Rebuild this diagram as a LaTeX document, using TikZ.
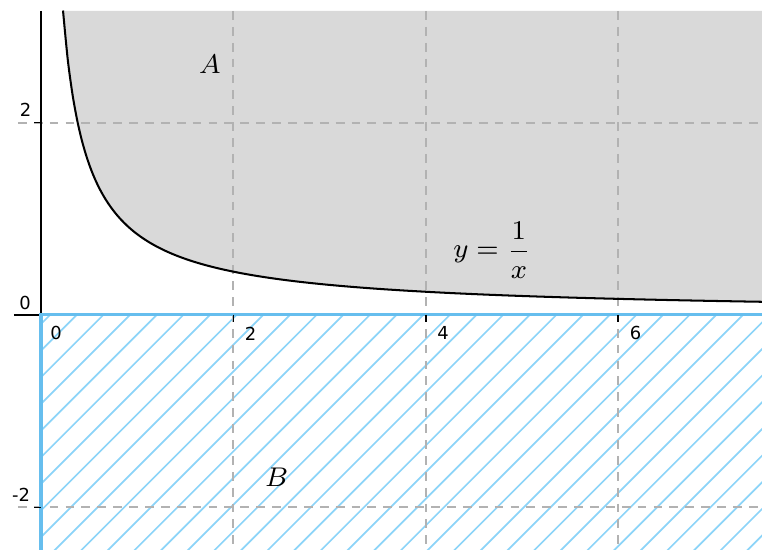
\documentclass[tikz,border=0pt]{standalone}
\usepackage{amsmath}
\usepackage{fontspec}
\usepackage{tikz}
\newfontfamily\tickfont{DejaVu Sans}
\definecolor{areagray}{RGB}{217,217,217}
\definecolor{bdblue}{RGB}{102,190,238}
\definecolor{hatchblue}{RGB}{140,212,248}
\definecolor{gridgray}{RGB}{178,178,178}

\begin{document}
\begin{tikzpicture}[
  gridline/.style={gridgray,line width=0.6pt,dash pattern=on 2.6pt off 2.1pt},
  axisline/.style={black,line width=0.45pt},
  ticklbl/.style={font=\fontsize{5.3}{6}\selectfont\tickfont,inner sep=0pt},
  lbl/.style={font=\fontsize{8.5}{10}\selectfont,inner sep=0pt},
  bound/.style={bdblue,line width=0.9pt},
  hatch/.style={hatchblue,line width=0.5pt}]
\useasboundingbox (-0.426,-2.443) rectangle (7.495,3.274);
% region A above the curve
\fill[areagray] plot[domain=0.229:7.495,samples=120,smooth] (\x,{0.84*pow(\x,-0.9)})
  -- (7.495,3.16) -- (0.229,3.16) -- cycle;
% region B, hatched
\begin{scope}
\clip (0,-2.443) rectangle (7.495,0);
\foreach \k in {0,...,36}
  \draw[hatch] ({0.094+0.277*\k},0) -- ++(-2.6,-2.6);
\end{scope}
% grid
\foreach \gx in {2,4,6} \draw[gridline] (\gx,3.16) -- (\gx,-2.443);
\foreach \gy in {2,-2} \draw[gridline] (-0.24,\gy) -- (7.495,\gy);
% axes
\draw[axisline] (-0.281,0) -- (7.495,0);
\draw[axisline] (0,3.16) -- (0,0);
\draw[bound] (0,-2.443) -- (0,0) -- (7.495,0);
\foreach \gy in {2,-2} \draw[axisline] (-0.07,\gy) -- (0,\gy);
\foreach \gx in {2,4,6} \draw[axisline] (\gx,0) -- (\gx,-0.07);
% curve
\draw[line width=0.6pt] plot[domain=0.229:7.495,samples=150,smooth] (\x,{0.84*pow(\x,-0.9)});
% tick labels
\node[ticklbl] (ylab2) at (-0.161,2.13) {2};
\node[ticklbl] (ylab0) at (-0.166,0.125) {0};
\node[ticklbl] (ylabm2) at (-0.208,-1.87) {-2};
\node[ticklbl] (xlab0) at (0.156,-0.192) {0};
\node[ticklbl] (xlab2) at (2.178,-0.192) {2};
\node[ticklbl] (xlab4) at (4.18,-0.192) {4};
\node[ticklbl] (xlab6) at (6.18,-0.192) {6};
% region labels
\node[lbl] (labA) at (1.757,2.61) {$A$};
\node[lbl] (labB) at (2.45,-1.69) {$B$};
\node[lbl] (labf) at (4.69,0.676) {$y=\dfrac{1}{x}$};
\end{tikzpicture}
\end{document}
